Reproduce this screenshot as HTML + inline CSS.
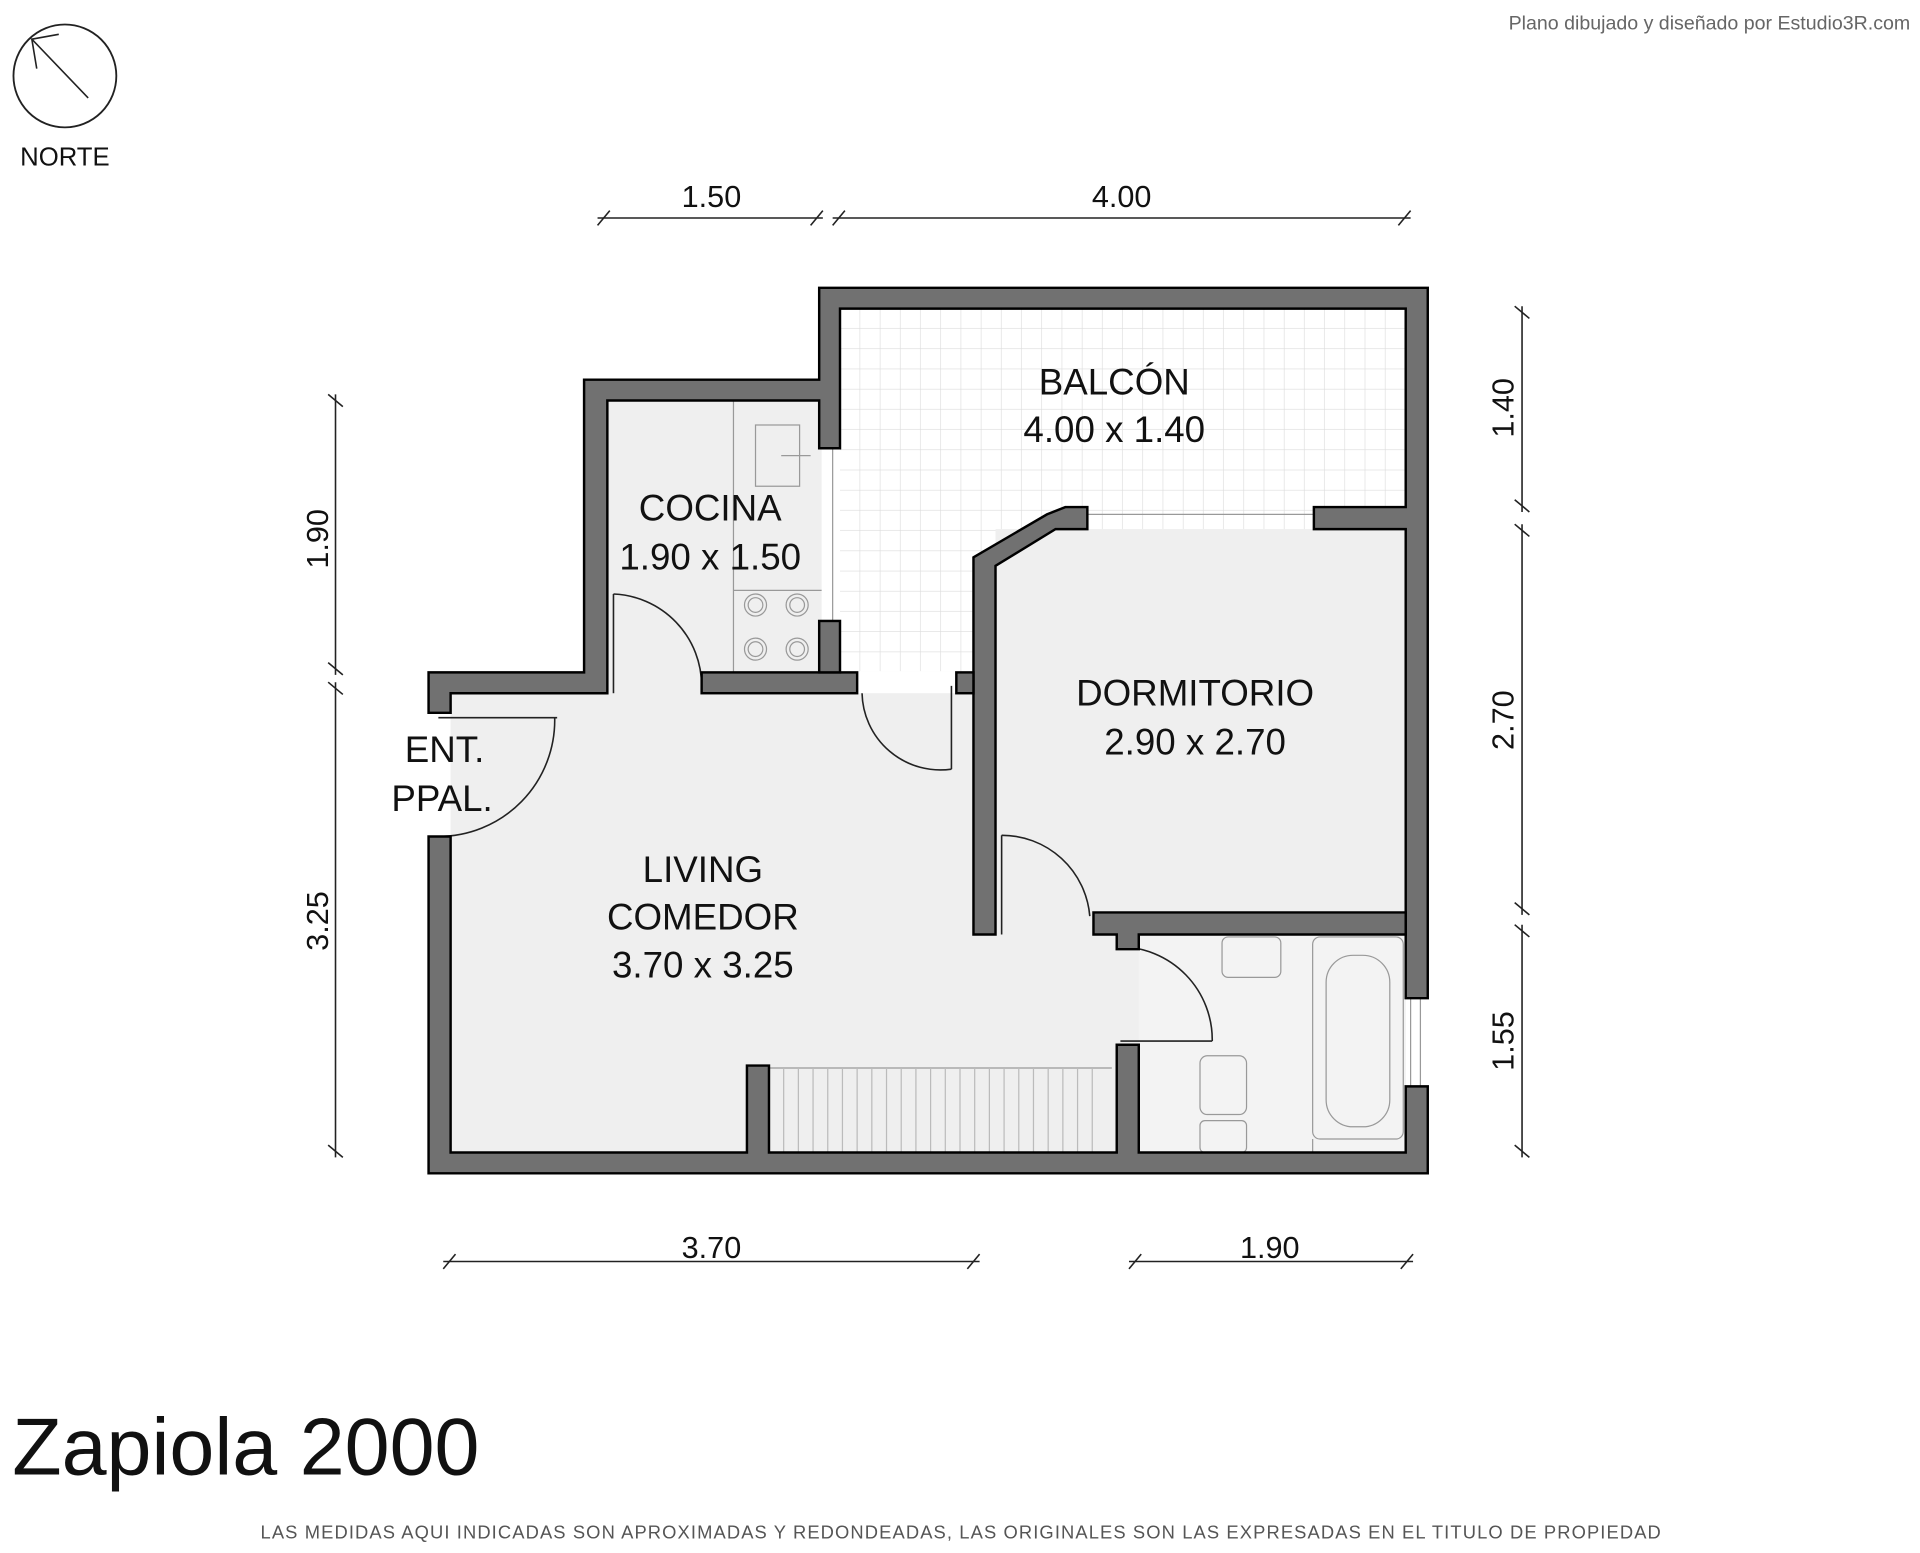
<!DOCTYPE html>
<html><head><meta charset="utf-8"><style>
html,body{margin:0;padding:0;background:#fff;width:1920px;height:1553px;overflow:hidden}
svg{display:block}
text{font-family:"Liberation Sans",Arial,sans-serif;fill:#111}
</style></head><body>
<svg width="1920" height="1553" viewBox="0 0 1568 1268" preserveAspectRatio="none" xmlns="http://www.w3.org/2000/svg">
<defs>
<pattern id="grid" x="686" y="252" width="16.5" height="16.5" patternUnits="userSpaceOnUse">
<rect width="16.5" height="16.5" fill="#fff"/>
<path d="M16.5 0V16.5M0 16.5H16.5" stroke="#dcdcdc" stroke-width="1" fill="none"/>
</pattern>
</defs>
<rect x="368" y="566" width="780" height="375" fill="#efefef"/>
<rect x="496" y="327" width="175" height="240" fill="#efefef"/>
<rect x="686" y="252" width="462" height="296" fill="url(#grid)"/>
<rect x="813" y="432" width="335" height="313" fill="#efefef"/>
<rect x="930" y="763" width="218" height="178" fill="#f3f3f3"/>
<g stroke="#999" fill="none" stroke-width="1">
<line x1="599" y1="327" x2="599" y2="549"/>
<line x1="599" y1="482" x2="671" y2="482"/>
<line x1="680" y1="366" x2="680" y2="549"/>
<rect x="617" y="347" width="36" height="50"/>
<line x1="638" y1="372" x2="662" y2="372"/>
<circle cx="617" cy="494" r="9"/><circle cx="617" cy="494" r="6"/>
<circle cx="651" cy="494" r="9"/><circle cx="651" cy="494" r="6"/>
<circle cx="617" cy="530" r="9"/><circle cx="617" cy="530" r="6"/>
<circle cx="651" cy="530" r="9"/><circle cx="651" cy="530" r="6"/>
<rect x="998" y="765" width="48" height="33" rx="5"/>
<rect x="1072" y="765" width="74" height="165" rx="6"/>
<rect x="1083" y="780" width="52" height="140" rx="22"/>
<line x1="1072" y1="930" x2="1072" y2="941"/>
<rect x="980" y="862" width="38" height="48" rx="6"/>
<rect x="980" y="915" width="38" height="26" rx="4"/>
<line x1="1152" y1="815" x2="1152" y2="887"/><line x1="1160" y1="815" x2="1160" y2="887"/>
<line x1="628" y1="872" x2="908" y2="872"/>
</g>
<g stroke="#bbb" stroke-width="1">
<path d="M640 872V941M652 872V941M664 872V941M676 872V941M688 872V941M700 872V941M712 872V941M724 872V941M736 872V941M748 872V941M760 872V941M772 872V941M784 872V941M796 872V941M808 872V941M820 872V941M832 872V941M844 872V941M856 872V941M868 872V941M880 872V941M892 872V941"/>
<line x1="888" y1="420" x2="1073" y2="420" stroke="#999"/>
</g>
<g stroke="#222" stroke-width="1.3" fill="none">
<path d="M358 683A95 95 0 0 0 453 586"/><line x1="358" y1="586" x2="455" y2="586"/>
<path d="M501 485A75 75 0 0 1 573 560"/><line x1="501" y1="485" x2="501" y2="566"/>
<path d="M704 566A64 64 0 0 0 777 628"/><line x1="777" y1="560" x2="777" y2="628"/>
<path d="M818 682A72 72 0 0 1 890 748"/><line x1="818" y1="682" x2="818" y2="763"/>
<path d="M915 773A76 76 0 0 1 990 850"/><line x1="915" y1="850" x2="990" y2="850"/>
</g>
<g fill="#717171" stroke="#000" stroke-width="2">
<path d="M350 958V683H368V941H610V870H628V941H912V853H930V941H1148V887H1166V958Z"/>
<path d="M350 582V549H477V310H669V235H1166V815H1148V432H1073V414H1148V252H686V366H669V327H496V566H368V582Z"/>
<rect x="573" y="549" width="127" height="17"/>
<rect x="669" y="507" width="17" height="42"/>
<path d="M870 414H888V432H862L813 462V763H795V455L855 420Z"/>
<rect x="781" y="549" width="14" height="17"/>
<path d="M893 745H1148V763H930V775H912V763H893Z"/>
</g>
<g font-size="30" text-anchor="middle">
<text x="910" y="322">BALCÓN</text><text x="910" y="361">4.00 x 1.40</text>
<text x="580" y="425">COCINA</text><text x="580" y="465">1.90 x 1.50</text>
<text x="976" y="576">DORMITORIO</text><text x="976" y="616">2.90 x 2.70</text>
<text x="574" y="720">LIVING</text><text x="574" y="759">COMEDOR</text><text x="574" y="798">3.70 x 3.25</text>
<text x="363" y="622">ENT.</text><text x="361" y="662">PPAL.</text>
</g>
<g stroke="#222" stroke-width="1.3">
<line x1="488" y1="178" x2="672" y2="178"/><line x1="488" y1="184" x2="498" y2="172"/><line x1="662" y1="184" x2="672" y2="172"/>
<line x1="680" y1="178" x2="1152" y2="178"/><line x1="680" y1="184" x2="690" y2="172"/><line x1="1142" y1="184" x2="1152" y2="172"/>
<line x1="362" y1="1030" x2="800" y2="1030"/><line x1="362" y1="1036" x2="372" y2="1024"/><line x1="790" y1="1036" x2="800" y2="1024"/>
<line x1="922" y1="1030" x2="1154" y2="1030"/><line x1="922" y1="1036" x2="932" y2="1024"/><line x1="1144" y1="1036" x2="1154" y2="1024"/>
<line x1="274" y1="322" x2="274" y2="551"/><line x1="268" y1="322" x2="280" y2="332"/><line x1="268" y1="541" x2="280" y2="551"/>
<line x1="274" y1="557" x2="274" y2="945"/><line x1="268" y1="557" x2="280" y2="567"/><line x1="268" y1="935" x2="280" y2="945"/>
<line x1="1243" y1="250" x2="1243" y2="418"/><line x1="1237" y1="250" x2="1249" y2="260"/><line x1="1237" y1="408" x2="1249" y2="418"/>
<line x1="1243" y1="428" x2="1243" y2="747"/><line x1="1237" y1="428" x2="1249" y2="438"/><line x1="1237" y1="737" x2="1249" y2="747"/>
<line x1="1243" y1="755" x2="1243" y2="945"/><line x1="1237" y1="755" x2="1249" y2="765"/><line x1="1237" y1="935" x2="1249" y2="945"/>
</g>
<g font-size="25" text-anchor="middle">
<text x="581" y="169">1.50</text><text x="916" y="169">4.00</text>
<text x="581" y="1027">3.70</text><text x="1037" y="1027">1.90</text>
<text transform="translate(268,440) rotate(-90)">1.90</text>
<text transform="translate(268,752) rotate(-90)">3.25</text>
<text transform="translate(1236,333) rotate(-90)">1.40</text>
<text transform="translate(1236,588) rotate(-90)">2.70</text>
<text transform="translate(1236,850) rotate(-90)">1.55</text>
</g>
<circle cx="53" cy="62" r="42" fill="none" stroke="#222" stroke-width="1.5"/>
<path d="M72 80L26 32L48 28M26 32L30 56" fill="none" stroke="#222" stroke-width="1.3"/>
<text x="53" y="135" font-size="21" text-anchor="middle">NORTE</text>
<text x="1560" y="24" font-size="16" text-anchor="end" style="fill:#666">Plano dibujado y diseñado por Estudio3R.com</text>
<text x="10" y="1204" font-size="66">Zapiola 2000</text>
<text x="785" y="1256" font-size="15" text-anchor="middle" letter-spacing="0.9" style="fill:#555">LAS MEDIDAS AQUI INDICADAS SON APROXIMADAS Y REDONDEADAS, LAS ORIGINALES SON LAS EXPRESADAS EN EL TITULO DE PROPIEDAD</text>
</svg>
</body></html>
